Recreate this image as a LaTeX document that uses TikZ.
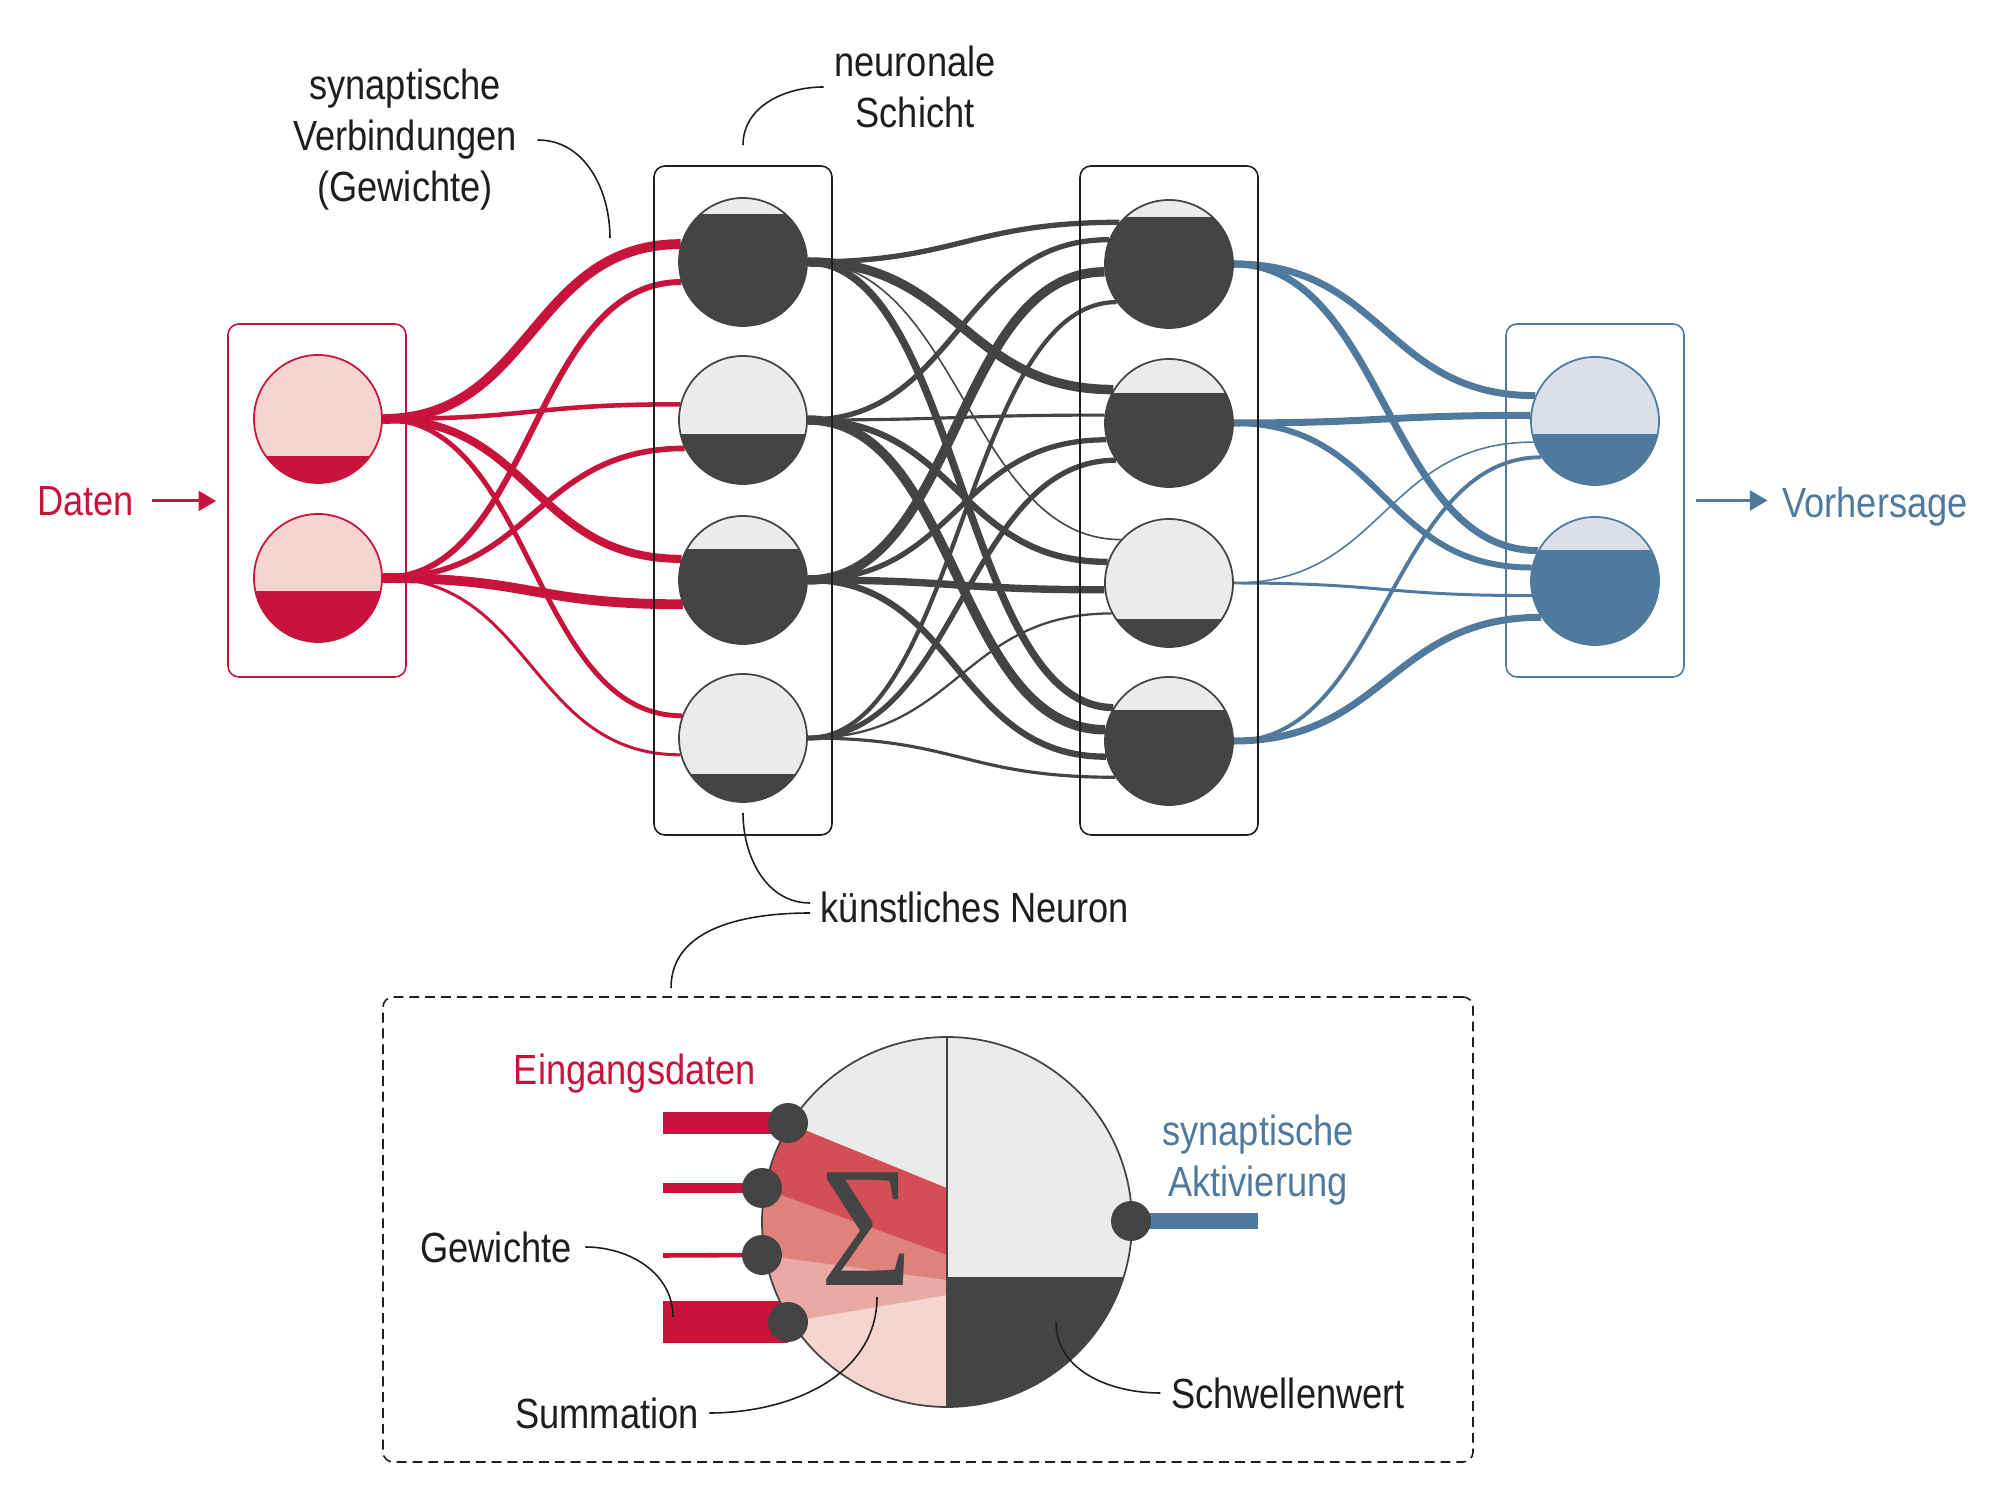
\documentclass[tikz,border=0pt]{standalone}
\usepackage{fontspec}
\setmainfont{Liberation Sans}[FakeStretch=0.86]
\newfontfamily\griechisch{Liberation Serif}
\usetikzlibrary{arrows.meta}

\definecolor{rot}{HTML}{C8133A}
\definecolor{blau}{HTML}{50799E}
\definecolor{dunkel}{HTML}{444444}
\definecolor{hell}{HTML}{EBEBEB}
\definecolor{rosa}{HTML}{F4D5D0}
\definecolor{blauhell}{HTML}{DADFEA}
\definecolor{textgrau}{HTML}{1E1E1E}
\definecolor{band1}{HTML}{D44E55}
\definecolor{band2}{HTML}{E0827C}
\definecolor{band3}{HTML}{EAAAA4}

\pgfdeclarelayer{hinten}
\pgfsetlayers{hinten,main}

\tikzset{
    zelle/.style n args={4}{circle, minimum size=1.28cm, inner sep=0pt,
        draw=#1, line width=0.5pt, fill=#2,
        path picture={\fill[#3] ([yshift=#4]path picture bounding box.west)
            rectangle (path picture bounding box.south east);}},
    schicht/.style={draw=#1, line width=0.45pt, rounded corners=1.1mm,
        minimum width=1.78cm, inner sep=0pt},
    bahn/.style={to path={.. controls +(1.5,0) and +(-1.5,0) .. (\tikztotarget)}},
    beschr/.style={text=textgrau, inner sep=1mm, align=center},
    leiter/.style={line width=0.45pt, textgrau},
    pfeil/.style={line width=0.85pt, -{Triangle[length=5pt,width=5.6pt]}},
    punkt/.style={circle, fill=dunkel, minimum size=0.40cm, inner sep=0pt},
}

\begin{document}
\begin{tikzpicture}[font=\fontsize{12}{14.5}\selectfont]
    \useasboundingbox (0,0) rectangle (20,-15.05);

    % Rahmen der Schichten
    \node[schicht=rot, minimum height=3.53cm] (ebox) at (3.17,-5.005) {};
    \node[schicht=textgrau, minimum height=6.69cm] (s1) at (7.43,-5.005) {};
    \node[schicht=textgrau, minimum height=6.69cm] (s2) at (11.69,-5.005) {};
    \node[schicht=blau, minimum height=3.53cm] (vbox) at (15.95,-5.005) {};

    % Eingabeschicht
    \node[zelle={rot}{rosa}{rot}{-0.37cm}] (e1) at (3.18,-4.19) {};
    \node[zelle={rot}{rosa}{rot}{-0.13cm}] (e2) at (3.18,-5.78) {};

    % neuronale Schichten
    \node[zelle={dunkel}{hell}{dunkel}{0.48cm}] (a1) at (7.43,-2.62) {};
    \node[zelle={dunkel}{hell}{dunkel}{-0.14cm}] (a2) at (7.43,-4.20) {};
    \node[zelle={dunkel}{hell}{dunkel}{0.31cm}] (a3) at (7.43,-5.80) {};
    \node[zelle={dunkel}{hell}{dunkel}{-0.36cm}] (a4) at (7.43,-7.38) {};

    \node[zelle={dunkel}{hell}{dunkel}{0.47cm}] (b1) at (11.69,-2.64) {};
    \node[zelle={dunkel}{hell}{dunkel}{0.30cm}] (b2) at (11.69,-4.23) {};
    \node[zelle={dunkel}{hell}{dunkel}{-0.36cm}] (b3) at (11.69,-5.83) {};
    \node[zelle={dunkel}{hell}{dunkel}{0.31cm}] (b4) at (11.69,-7.41) {};

    % Ausgabeschicht
    \node[zelle={blau}{blauhell}{blau}{-0.13cm}] (v1) at (15.95,-4.21) {};
    \node[zelle={blau}{blauhell}{blau}{0.31cm}] (v2) at (15.95,-5.81) {};

    % Verbindungen (Gewichte)
    \begin{pgfonlayer}{hinten}
        \foreach \von/\nach/\breite in {e1/a1.164/2.8, e2/a1.198/1.7, e1/a2.166/1.3, e2/a2.206/1.6,
                e1/a3.161/2.3, e2/a3.202/2.8, e1/a4.160/1.4, e2/a4.195/0.85}
            \draw[rot, line width=\breite pt] (\von.east) to[bahn] (\nach);

        \foreach \von/\nach/\breite in {a1/b1.140/1.5, a2/b1.158/1.5, a3/b1.187/2.7, a4/b1.216/1.2,
                a1/b2.149/2.7, a2/b2.173/0.9, a3/b2.195/1.5, a4/b2.215/1.5,
                a1/b3.138/0.45, a2/b3.161/1.8, a3/b3.186/2.1, a4/b3.208/0.65,
                a1/b4.149/2.1, a2/b4.170/2.7, a3/b4.194/1.8, a4/b4.214/0.9}
            \draw[dunkel, line width=\breite pt] (\von.east) to[bahn] (\nach);

        \foreach \von/\nach/\breite in {b1/v1.157/2.0, b2/v1.175/2.0, b3/v1.199/0.45, b4/v1.214/1.1,
                b1/v2.152/2.0, b2/v2.168/1.7, b3/v2.193/0.85, b4/v2.214/2.0}
            \draw[blau, line width=\breite pt] (\von.east) to[bahn] (\nach);
    \end{pgfonlayer}

    % Beschriftung oben
    \node[beschr, text=rot] (daten) at (0.855,-5.01) {Daten};
    \node[beschr, text=blau] (vorh) at (18.75,-5.07) {Vorhersage};
    \draw[pfeil, rot, shorten <=0.7mm, shorten >=1.1mm] (daten.east) -- (daten.east -| ebox.west);
    \draw[pfeil, blau, shorten <=1.1mm, shorten >=0.4mm] (vbox.east) -- (vbox.east -| vorh.west);

    \node[beschr] (verbtext) at (4.05,-1.40) {synaptische\\Verbindungen\\(Gewichte)};
    \coordinate (c1) at (6.10,-2.38);
    \draw[leiter] ([xshift=1mm]verbtext.east) to[out=0,in=90] (c1);

    \node[beschr] (schichttext) at (9.15,-0.87) {neuronale\\Schicht};
    \draw[leiter] (schichttext.west) to[out=180,in=90] ([yshift=2mm]s1.north);

    \node[beschr] (neurontext) at (9.75,-9.07) {künstliches Neuron};
    \coordinate (c2) at (6.71,-9.88);
    \draw[leiter] ([yshift=-1mm]a4.south) to[out=-90,in=180] ([yshift=0.4mm]neurontext.west);
    \draw[leiter] ([yshift=-0.6mm]neurontext.west) to[out=180,in=90] (c2);

    % Detail: kuenstliches Neuron
    \node[draw=textgrau, line width=0.45pt, dash pattern=on 2.8pt off 1.7pt,
        rounded corners=1mm, minimum width=10.9cm, minimum height=4.65cm] (detail) at (9.28,-12.295) {};

    \coordinate (k) at (9.47,-12.22);
    \coordinate (p1) at (7.88,-11.23);
    \coordinate (p2) at (7.62,-11.88);
    \coordinate (p3) at (7.62,-12.55);
    \coordinate (p4) at (7.88,-13.22);
    \begin{scope}
        \clip (k) circle (1.85);
        \fill[rosa] (7.5,-14.2) rectangle (9.47,-10.3);
        \fill[band3] (7.5,-13.22) -- (p4) -- (9.47,-12.95) -- (9.47,-10.3) -- (7.5,-10.3) -- cycle;
        \fill[band2] (7.5,-12.55) -- (p3) -- (9.47,-12.80) -- (9.47,-10.3) -- (7.5,-10.3) -- cycle;
        \fill[band1] (7.5,-11.88) -- (p2) -- (9.47,-12.55) -- (9.47,-10.3) -- (7.5,-10.3) -- cycle;
        \fill[hell] (7.5,-11.23) -- (p1) -- (9.47,-11.88) -- (9.47,-10.3) -- (7.5,-10.3) -- cycle;
        \fill[hell] (9.47,-10.3) rectangle (11.4,-12.77);
        \fill[dunkel] (9.47,-12.77) rectangle (11.4,-14.2);
    \end{scope}
    \draw[dunkel, line width=0.5pt] (k) circle (1.85);
    \draw[dunkel, line width=0.5pt] (9.47,-10.37) -- (9.47,-14.07);

    \node[text=dunkel, inner sep=0pt] (sigma) at (8.67,-12.29)
        {\scalebox{0.92}[1]{\griechisch\fontsize{49}{49}\selectfont Σ}};

    % Eingaenge und Ausgang
    \node[punkt] (d1) at (p1) {};
    \node[punkt] (d2) at (p2) {};
    \node[punkt] (d3) at (p3) {};
    \node[punkt] (d4) at (p4) {};
    \node[punkt] (d5) at (11.31,-12.21) {};
    \coordinate (q1) at (6.63,-11.23);
    \coordinate (q2) at (6.63,-11.88);
    \coordinate (q3) at (6.63,-12.555);
    \coordinate (q4) at (6.63,-13.22);
    \coordinate (q5) at (12.58,-12.21);
    \begin{pgfonlayer}{hinten}
        \draw[rot, line width=6pt] (q1) -- (d1.center);
        \draw[rot, line width=2.85pt] (q2) -- (d2.center);
        \draw[rot, line width=1.3pt] (q3) -- (d3.center);
        \draw[rot, line width=11.7pt] (q4) -- (d4.center);
        \draw[blau, line width=4.8pt] (d5.center) -- (q5);
    \end{pgfonlayer}

    % Beschriftung unten
    \node[beschr, text=rot] (eingang) at (6.35,-10.74) {Eingangsdaten};
    \node[beschr, text=blau] (aktiv) at (12.58,-11.60) {synaptische\\Aktivierung};

    \node[beschr] (gewtext) at (4.96,-12.47) {Gewichte};
    \coordinate (c3) at (6.73,-13.17);
    \draw[leiter] ([xshift=0.3mm]gewtext.east) to[out=0,in=90] (c3);

    \node[beschr] (summtext) at (6.07,-14.13) {Summation};
    \coordinate (c4) at (8.77,-12.97);
    \draw[leiter] (summtext.east) to[out=0,in=-90] (c4);

    \node[beschr] (schwtext) at (12.88,-13.93) {Schwellenwert};
    \coordinate (c5) at (10.56,-13.22);
    \draw[leiter] (schwtext.west) to[out=180,in=-90] (c5);
\end{tikzpicture}
\end{document}
